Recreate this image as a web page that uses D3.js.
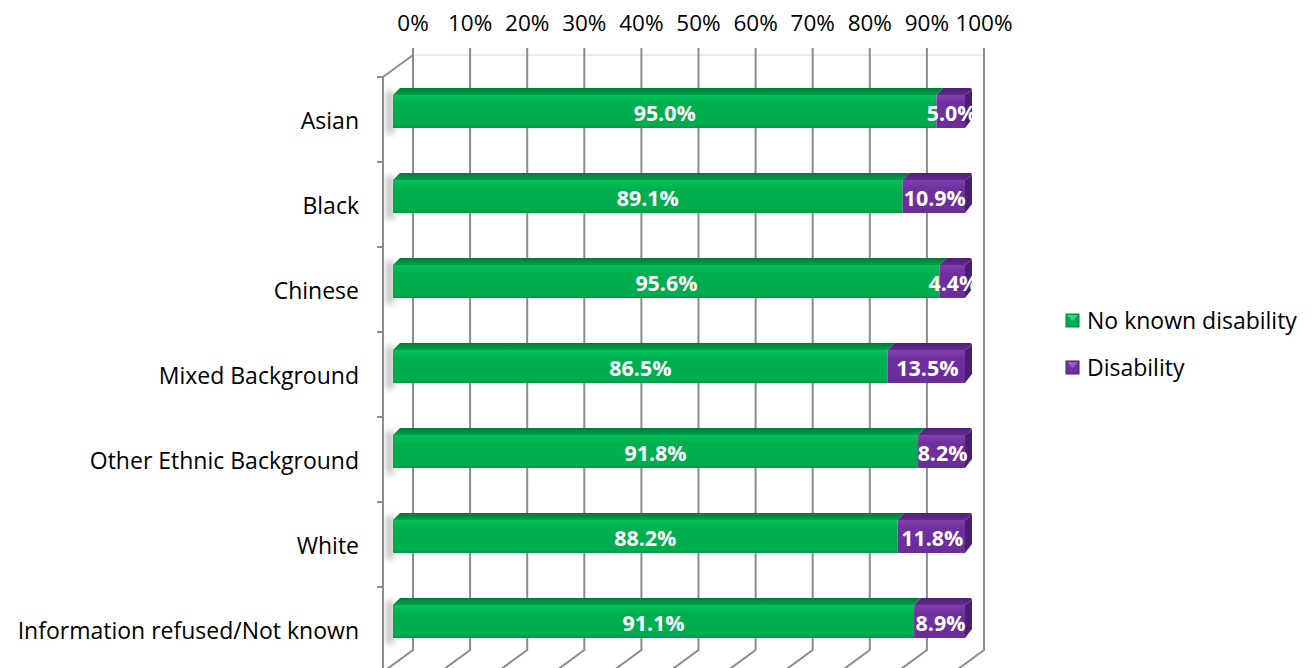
<!DOCTYPE html>
<html>
<head>
<meta charset="utf-8">
<script src="https://cdn.jsdelivr.net/npm/d3@7"></script>
<style>
  body { margin: 0; background: #fff; }
  text { font-family: "Open Sans", Lato, sans-serif; }
</style>
</head>
<body>
<div id="chart"></div>
<script>
// data
var categories = ["Asian", "Black", "Chinese", "Mixed Background", "Other Ethnic Background", "White", "Information refused/Not known"];
var noDisability = [95.0, 89.1, 95.6, 86.5, 91.8, 88.2, 91.1];
var disability = [5.0, 10.9, 4.4, 13.5, 8.2, 11.8, 8.9];
var seriesNames = ["No known disability", "Disability"];
var tickValues = [0, 10, 20, 30, 40, 50, 60, 70, 80, 90, 100];

function create_chart() {
  var svgWidth = 1316, svgHeight = 668;

  // 3d offsets of the plot box
  var depthX = 30, depthY = 22;
  var backTop = 55, backBottom = 650;

  var svg = d3.select("#chart").append("svg")
    .attr("width", svgWidth)
    .attr("height", svgHeight);

  var defs = svg.append("defs");
  var gGreen = defs.append("linearGradient").attr("id", "gFront").attr("x1", 0).attr("y1", 0).attr("x2", 0).attr("y2", 1);
  gGreen.append("stop").attr("offset", "0").attr("stop-color", "#00c35a");
  gGreen.append("stop").attr("offset", "0.25").attr("stop-color", "#00b050");
  gGreen.append("stop").attr("offset", "0.9").attr("stop-color", "#00ac4e");
  gGreen.append("stop").attr("offset", "1").attr("stop-color", "#009a45");
  var gGreenTop = defs.append("linearGradient").attr("id", "gTop").attr("x1", 0).attr("y1", 0).attr("x2", 0).attr("y2", 1);
  gGreenTop.append("stop").attr("offset", "0").attr("stop-color", "#007a38");
  gGreenTop.append("stop").attr("offset", "1").attr("stop-color", "#00a14a");
  var gPurple = defs.append("linearGradient").attr("id", "pFront").attr("x1", 0).attr("y1", 0).attr("x2", 0).attr("y2", 1);
  gPurple.append("stop").attr("offset", "0").attr("stop-color", "#8040b0");
  gPurple.append("stop").attr("offset", "0.25").attr("stop-color", "#7030a0");
  gPurple.append("stop").attr("offset", "1").attr("stop-color", "#6a2d99");
  var gPurpleTop = defs.append("linearGradient").attr("id", "pTop").attr("x1", 0).attr("y1", 0).attr("x2", 0).attr("y2", 1);
  gPurpleTop.append("stop").attr("offset", "0").attr("stop-color", "#4e1f74");
  gPurpleTop.append("stop").attr("offset", "1").attr("stop-color", "#642a90");
  defs.append("filter").attr("id", "blur").attr("x", "-50%").attr("width", "200%")
    .append("feGaussianBlur").attr("stdDeviation", 3);

  var xBack = d3.scaleLinear().domain([0, 100]).range([413, 984]);
  var xFront = d3.scaleLinear().domain([0, 100]).range([393, 965]);
  var y = d3.scaleBand().domain(categories).range([backTop + depthY, backTop + depthY + 85 * categories.length]);

  // back wall top edge
  svg.append("line")
    .attr("x1", xBack(0)).attr("x2", xBack(100))
    .attr("y1", backTop).attr("y2", backTop)
    .attr("stroke", "#d9d9d9").attr("stroke-width", 1);

  // gridlines with floor diagonals
  var grid = svg.append("g").attr("fill", "none").attr("stroke", "#8c8c8c").attr("stroke-width", 2);
  grid.selectAll("path")
    .data(tickValues)
    .enter()
    .append("path")
    .attr("d", d => `M${xBack(d)},${backTop - 7} L${xBack(d)},${backBottom} L${xBack(d) - depthX},${backBottom + depthY}`);

  // left wall
  grid.append("path")
    .attr("d", `M${xBack(0)},${backTop} L${xBack(0) - depthX},${backTop + depthY} L${xBack(0) - depthX},${svgHeight + 5}`);

  // category ticks
  grid.selectAll(".ctick")
    .data(categories)
    .enter()
    .append("line")
    .attr("x1", xBack(0) - depthX - 6).attr("x2", xBack(0) - depthX)
    .attr("y1", d => y(d)).attr("y2", d => y(d));

  // top axis labels
  svg.append("g").selectAll("text")
    .data(tickValues)
    .enter()
    .append("text")
    .attr("x", d => xBack(d))
    .attr("y", 22)
    .attr("text-anchor", "middle")
    .attr("dominant-baseline", "central")
    .attr("font-size", "22.5px")
    .attr("fill", "#000")
    .text(d => d + "%");

  // category labels
  svg.append("g").selectAll("text")
    .data(categories)
    .enter()
    .append("text")
    .attr("x", 359)
    .attr("y", d => y(d) + y.bandwidth() / 2)
    .attr("text-anchor", "end")
    .attr("dominant-baseline", "central")
    .attr("font-size", "23px")
    .attr("fill", "#000")
    .text(d => d);

  // bars
  var barOff = 18, barH = 33, bd = 7;
  var rows = categories.map((c, i) => ({ cat: c, a: noDisability[i], b: disability[i] }));
  var bars = svg.append("g");

  // soft shadow on left
  bars.selectAll(".shadow")
    .data(rows)
    .enter()
    .append("rect")
    .attr("x", xFront(0) - 7)
    .attr("y", d => y(d.cat) + barOff - 4)
    .attr("width", 8)
    .attr("height", barH + 10)
    .attr("fill", "#9a9a9a")
    .attr("opacity", 0.6)
    .attr("filter", "url(#blur)");

  rows.forEach(function(d) {
    var top = y(d.cat) + barOff;
    var x0 = xFront(0), x1 = xFront(d.a), x2 = xFront(d.a + d.b);
    var g = bars.append("g");
    // top faces
    g.append("path")
      .attr("d", `M${x0},${top} L${x0 + bd},${top - bd} L${x1 + bd},${top - bd} L${x1},${top} Z`)
      .attr("fill", "url(#gTop)");
    g.append("path")
      .attr("d", `M${x1},${top} L${x1 + bd},${top - bd} L${x2 + bd - 2},${top - bd} Q${x2 + bd},${top - bd} ${x2 + bd},${top - bd + 2} L${x2},${top} Z`)
      .attr("fill", "url(#pTop)");
    // right end face
    g.append("path")
      .attr("d", `M${x2},${top} L${x2 + bd},${top - bd + 2} L${x2 + bd},${top + barH - bd - 2} L${x2},${top + barH} Z`)
      .attr("fill", "#4b1f6f");
    // front faces
    g.append("rect")
      .attr("x", x0).attr("y", top)
      .attr("width", x1 - x0).attr("height", barH)
      .attr("fill", "url(#gFront)");
    g.append("rect")
      .attr("x", x1).attr("y", top)
      .attr("width", x2 - x1).attr("height", barH)
      .attr("fill", "url(#pFront)");
    // labels
    g.append("text")
      .attr("x", (x0 + x1) / 2)
      .attr("y", top + barH / 2 + 1)
      .attr("text-anchor", "middle")
      .attr("dominant-baseline", "central")
      .attr("font-size", "21.4px")
      .attr("font-weight", "bold")
      .attr("fill", "#fff")
      .text(d.a.toFixed(1) + "%");
    g.append("text")
      .attr("x", (x1 + x2) / 2 + 1)
      .attr("y", top + barH / 2 + 1)
      .attr("text-anchor", "middle")
      .attr("dominant-baseline", "central")
      .attr("font-size", "21.4px")
      .attr("font-weight", "bold")
      .attr("fill", "#fff")
      .text(d.b.toFixed(1) + "%");
  });

  // legend
  var legendColors = ["#00b050", "#7030a0"];
  var legend = svg.append("g").selectAll("g")
    .data(seriesNames)
    .enter()
    .append("g")
    .attr("transform", (d, i) => `translate(1066, ${320 + i * 47})`);
  legend.append("rect")
    .attr("x", 0).attr("y", -6)
    .attr("width", 13).attr("height", 13)
    .attr("fill", (d, i) => legendColors[i])
    .attr("stroke", (d, i) => i === 0 ? "#00853c" : "#4b1f6f")
    .attr("stroke-width", 1);
  legend.append("path")
    .attr("d", "M1,-5 L6.5,1 L12,-5 Z")
    .attr("fill", (d, i) => i === 0 ? "#3fd07f" : "#9a5ccc");
  legend.append("text")
    .attr("x", 21)
    .attr("y", 0)
    .attr("dominant-baseline", "central")
    .attr("font-size", "23px")
    .attr("fill", "#000")
    .text(d => d);
}

create_chart();
</script>
</body>
</html>
